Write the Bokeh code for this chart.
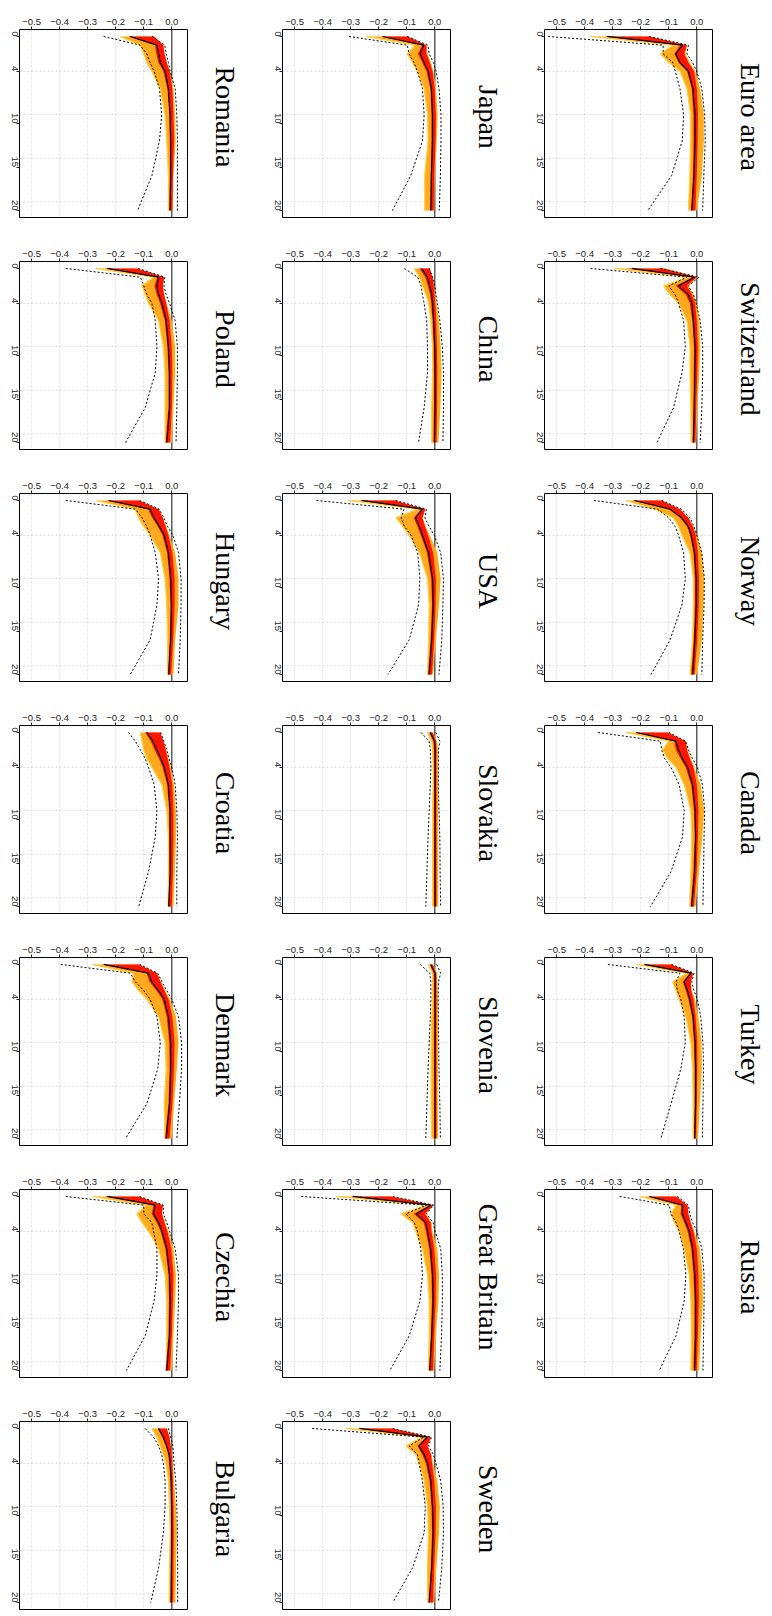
import math
from bokeh.plotting import figure
from bokeh.layouts import gridplot
from bokeh.models import Range1d, FixedTicker, Span, Title
from bokeh.embed import file_html
from bokeh.resources import INLINE

HORIZONS = [0, 1, 2, 3, 4, 6, 9, 12, 16, 20]

COUNTRIES = ["Euro area", "Switzerland", "Norway", "Canada", "Turkey", "Russia",
             "Japan", "China", "USA", "Slovakia", "Slovenia", "Great Britain", "Sweden",
             "Romania", "Poland", "Hungary", "Croatia", "Denmark", "Czechia", "Bulgaria"]

X_TICKS = [-0.5, -0.4, -0.3, -0.2, -0.1, 0.0]
X_TICK_LABELS = ["\u22120.5", "\u22120.4", "\u22120.3", "\u22120.2", "\u22120.1", "0.0"]
H_TICKS = [0, 4, 10, 15, 20]
H_GRID = [4, 9, 14, 19]

# central (black) response
MID = {
    "Euro area":     [-0.32, -0.05, -0.075, -0.06, -0.03, -0.014, -0.006, -0.006, -0.01, -0.018],
    "Switzerland":   [-0.231, -0.008, -0.065, -0.03, -0.018, -0.012, -0.006, -0.007, -0.009, -0.012],
    "Norway":        [-0.222, -0.095, -0.053, -0.03, -0.02, -0.008, -0.002, -0.002, -0.007, -0.015],
    "Canada":        [-0.216, -0.074, -0.065, -0.051, -0.033, -0.015, -0.006, -0.004, -0.008, -0.018],
    "Turkey":        [-0.187, -0.021, -0.045, -0.033, -0.025, -0.013, -0.006, -0.004, -0.004, -0.008],
    "Russia":        [-0.169, -0.051, -0.051, -0.039, -0.027, -0.015, -0.007, -0.004, -0.004, -0.008],
    "Japan":         [-0.187, -0.04, -0.052, -0.038, -0.023, -0.012, -0.008, -0.008, -0.012, -0.014],
    "China":         [-0.047, -0.026, -0.018, -0.011, -0.008, -0.004, 0.0, 0.001, 0.001, -0.001],
    "USA":           [-0.261, -0.044, -0.069, -0.055, -0.044, -0.022, -0.008, -0.006, -0.011, -0.02],
    "Slovakia":      [-0.016, -0.001, 0.001, 0.001, 0.001, 0.001, 0.001, 0.001, 0.001, 0.001],
    "Slovenia":      [-0.014, 0.001, 0.001, 0.001, 0.001, 0.001, 0.001, 0.001, 0.001, 0.001],
    "Great Britain": [-0.293, -0.014, -0.065, -0.032, -0.026, -0.015, -0.008, -0.006, -0.011, -0.018],
    "Sweden":        [-0.269, -0.026, -0.056, -0.038, -0.026, -0.014, -0.008, -0.006, -0.011, -0.02],
    "Romania":       [-0.148, -0.053, -0.047, -0.041, -0.024, -0.012, -0.006, -0.004, -0.004, -0.006],
    "Poland":        [-0.23, -0.047, -0.053, -0.047, -0.035, -0.02, -0.012, -0.008, -0.008, -0.018],
    "Hungary":       [-0.225, -0.077, -0.063, -0.044, -0.027, -0.012, -0.004, -0.001, -0.004, -0.011],
    "Croatia":       [-0.089, -0.067, -0.053, -0.039, -0.027, -0.012, -0.006, -0.006, -0.006, -0.011],
    "Denmark":       [-0.242, -0.083, -0.071, -0.047, -0.027, -0.012, -0.004, -0.004, -0.008, -0.02],
    "Czechia":       [-0.23, -0.059, -0.065, -0.047, -0.035, -0.018, -0.008, -0.006, -0.008, -0.018],
    "Bulgaria":      [-0.047, -0.03, -0.018, -0.009, -0.006, -0.002, 0.0, 0.0, -0.001, -0.002],
}

# lower dotted band
LO = {
    "Euro area":     [-0.53, -0.12, -0.12, -0.085, -0.077, -0.06, -0.047, -0.052, -0.09, -0.175],
    "Switzerland":   [-0.379, -0.035, -0.1, -0.077, -0.065, -0.047, -0.041, -0.053, -0.083, -0.142],
    "Norway":        [-0.367, -0.14, -0.1, -0.077, -0.065, -0.047, -0.041, -0.053, -0.095, -0.163],
    "Canada":        [-0.352, -0.13, -0.125, -0.115, -0.092, -0.063, -0.045, -0.051, -0.092, -0.165],
    "Turkey":        [-0.317, -0.06, -0.074, -0.069, -0.057, -0.045, -0.041, -0.057, -0.092, -0.128],
    "Russia":        [-0.275, -0.098, -0.092, -0.074, -0.063, -0.048, -0.039, -0.045, -0.074, -0.134],
    "Japan":         [-0.306, -0.098, -0.092, -0.074, -0.062, -0.044, -0.038, -0.044, -0.086, -0.151],
    "China":         [-0.108, -0.061, -0.049, -0.044, -0.038, -0.029, -0.026, -0.026, -0.038, -0.058],
    "USA":           [-0.422, -0.11, -0.12, -0.108, -0.085, -0.061, -0.053, -0.058, -0.091, -0.167],
    "Slovakia":      [-0.049, -0.02, -0.016, -0.015, -0.014, -0.016, -0.02, -0.024, -0.028, -0.032],
    "Slovenia":      [-0.052, -0.018, -0.014, -0.014, -0.014, -0.016, -0.02, -0.024, -0.028, -0.032],
    "Great Britain": [-0.476, -0.03, -0.103, -0.073, -0.062, -0.05, -0.044, -0.053, -0.091, -0.16],
    "Sweden":        [-0.437, -0.04, -0.091, -0.062, -0.056, -0.044, -0.034, -0.038, -0.079, -0.15],
    "Romania":       [-0.243, -0.113, -0.089, -0.077, -0.063, -0.044, -0.036, -0.044, -0.071, -0.122],
    "Poland":        [-0.378, -0.112, -0.1, -0.089, -0.071, -0.059, -0.053, -0.059, -0.095, -0.165],
    "Hungary":       [-0.378, -0.13, -0.106, -0.089, -0.077, -0.059, -0.047, -0.053, -0.077, -0.148],
    "Croatia":       [-0.154, -0.13, -0.112, -0.095, -0.083, -0.063, -0.053, -0.059, -0.083, -0.118],
    "Denmark":       [-0.396, -0.148, -0.13, -0.1, -0.077, -0.053, -0.041, -0.05, -0.089, -0.165],
    "Czechia":       [-0.378, -0.1, -0.1, -0.071, -0.065, -0.053, -0.053, -0.063, -0.095, -0.162],
    "Bulgaria":      [-0.095, -0.065, -0.047, -0.036, -0.03, -0.024, -0.024, -0.03, -0.047, -0.075],
}

# upper dotted band
HI = {
    "Euro area":     [-0.17, -0.03, -0.035, -0.015, 0.0, 0.018, 0.028, 0.03, 0.025, 0.021],
    "Switzerland":   [-0.13, 0.008, -0.03, -0.012, -0.002, 0.012, 0.021, 0.021, 0.018, 0.012],
    "Norway":        [-0.125, -0.055, -0.024, -0.01, 0.0, 0.018, 0.027, 0.026, 0.021, 0.018],
    "Canada":        [-0.1, -0.04, -0.03, -0.015, 0.002, 0.02, 0.028, 0.026, 0.024, 0.022],
    "Turkey":        [-0.09, -0.01, -0.018, -0.01, 0.002, 0.014, 0.022, 0.024, 0.022, 0.02],
    "Russia":        [-0.07, -0.03, -0.025, -0.015, 0.0, 0.018, 0.026, 0.026, 0.024, 0.022],
    "Japan":         [-0.098, -0.025, -0.02, -0.005, 0.005, 0.015, 0.022, 0.022, 0.02, 0.016],
    "China":         [-0.02, -0.008, 0.0, 0.004, 0.009, 0.018, 0.027, 0.031, 0.031, 0.029],
    "USA":           [-0.14, -0.03, -0.035, -0.02, -0.002, 0.021, 0.031, 0.029, 0.025, 0.015],
    "Slovakia":      [0.004, 0.018, 0.013, 0.013, 0.013, 0.013, 0.015, 0.018, 0.019, 0.021],
    "Slovenia":      [0.007, 0.021, 0.013, 0.012, 0.012, 0.013, 0.014, 0.015, 0.018, 0.02],
    "Great Britain": [-0.15, -0.004, -0.03, -0.006, 0.001, 0.021, 0.027, 0.027, 0.024, 0.018],
    "Sweden":        [-0.15, -0.012, -0.022, -0.005, 0.004, 0.021, 0.03, 0.031, 0.025, 0.013],
    "Romania":       [-0.07, -0.025, -0.02, -0.012, -0.006, 0.012, 0.018, 0.02, 0.02, 0.02],
    "Poland":        [-0.12, -0.025, -0.028, -0.02, -0.008, 0.012, 0.02, 0.02, 0.018, 0.015],
    "Hungary":       [-0.115, -0.045, -0.028, -0.015, 0.004, 0.024, 0.033, 0.033, 0.03, 0.024],
    "Croatia":       [-0.04, -0.028, -0.018, -0.01, 0.0, 0.012, 0.018, 0.02, 0.018, 0.018],
    "Denmark":       [-0.115, -0.05, -0.035, -0.018, 0.0, 0.024, 0.035, 0.035, 0.027, 0.018],
    "Czechia":       [-0.115, -0.03, -0.03, -0.018, -0.008, 0.012, 0.024, 0.024, 0.02, 0.015],
    "Bulgaria":      [-0.012, -0.004, 0.004, 0.006, 0.008, 0.014, 0.018, 0.02, 0.021, 0.021],
}

# outer envelope of the fan of estimates (yellow / orange)
FAN_L = {
    "Euro area":     [-0.38, -0.085, -0.13, -0.1, -0.06, -0.035, -0.022, -0.022, -0.025, -0.03],
    "Switzerland":   [-0.296, -0.03, -0.118, -0.095, -0.065, -0.035, -0.024, -0.024, -0.021, -0.02],
    "Norway":        [-0.254, -0.15, -0.083, -0.065, -0.053, -0.024, -0.012, -0.012, -0.015, -0.024],
    "Canada":        [-0.254, -0.1, -0.122, -0.104, -0.074, -0.045, -0.021, -0.018, -0.021, -0.025],
    "Turkey":        [-0.216, -0.035, -0.086, -0.074, -0.063, -0.039, -0.021, -0.015, -0.013, -0.013],
    "Russia":        [-0.204, -0.074, -0.092, -0.08, -0.063, -0.045, -0.027, -0.021, -0.019, -0.021],
    "Japan":         [-0.246, -0.07, -0.098, -0.08, -0.062, -0.038, -0.026, -0.024, -0.036, -0.036],
    "China":         [-0.073, -0.055, -0.044, -0.032, -0.022, -0.014, -0.008, -0.008, -0.011, -0.011],
    "USA":           [-0.31, -0.06, -0.138, -0.114, -0.091, -0.055, -0.026, -0.02, -0.022, -0.026],
    "Slovakia":      [-0.026, -0.011, -0.008, -0.007, -0.006, -0.006, -0.008, -0.008, -0.008, -0.008],
    "Slovenia":      [-0.022, -0.008, -0.008, -0.008, -0.008, -0.011, -0.013, -0.013, -0.013, -0.011],
    "Great Britain": [-0.352, -0.026, -0.121, -0.079, -0.068, -0.044, -0.026, -0.02, -0.02, -0.023],
    "Sweden":        [-0.316, -0.044, -0.103, -0.068, -0.056, -0.038, -0.026, -0.023, -0.026, -0.026],
    "Romania":       [-0.184, -0.113, -0.1, -0.089, -0.071, -0.041, -0.024, -0.018, -0.012, -0.012],
    "Poland":        [-0.272, -0.065, -0.106, -0.095, -0.083, -0.047, -0.03, -0.024, -0.024, -0.024],
    "Hungary":       [-0.272, -0.13, -0.118, -0.1, -0.077, -0.041, -0.024, -0.018, -0.015, -0.015],
    "Croatia":       [-0.112, -0.106, -0.1, -0.089, -0.071, -0.035, -0.018, -0.012, -0.012, -0.013],
    "Denmark":       [-0.284, -0.136, -0.142, -0.118, -0.089, -0.047, -0.024, -0.02, -0.027, -0.024],
    "Czechia":       [-0.284, -0.09, -0.124, -0.106, -0.083, -0.047, -0.024, -0.018, -0.018, -0.02],
    "Bulgaria":      [-0.071, -0.053, -0.041, -0.03, -0.021, -0.012, -0.008, -0.006, -0.008, -0.009],
}
FAN_R = {
    "Euro area":     [-0.17, -0.035, -0.04, -0.025, -0.005, 0.012, 0.025, 0.025, 0.018, 0.0],
    "Switzerland":   [-0.11, 0.002, -0.03, -0.012, 0.0, 0.009, 0.012, 0.009, 0.002, -0.002],
    "Norway":        [-0.125, -0.06, -0.03, -0.012, 0.0, 0.018, 0.026, 0.024, 0.018, 0.002],
    "Canada":        [-0.104, -0.039, -0.033, -0.021, -0.009, 0.014, 0.026, 0.02, 0.008, -0.004],
    "Turkey":        [-0.092, -0.013, -0.021, -0.018, -0.006, 0.006, 0.017, 0.018, 0.011, 0.004],
    "Russia":        [-0.074, -0.033, -0.03, -0.021, -0.009, 0.011, 0.02, 0.022, 0.014, 0.008],
    "Japan":         [-0.098, -0.03, -0.026, -0.014, -0.005, 0.004, 0.01, 0.007, 0.0, -0.002],
    "China":         [-0.018, -0.008, -0.002, 0.001, 0.006, 0.015, 0.021, 0.024, 0.02, 0.013],
    "USA":           [-0.144, -0.034, -0.044, -0.032, -0.018, 0.009, 0.021, 0.015, 0.004, -0.006],
    "Slovakia":      [-0.006, 0.008, 0.011, 0.011, 0.011, 0.012, 0.012, 0.012, 0.012, 0.012],
    "Slovenia":      [-0.006, 0.008, 0.009, 0.01, 0.011, 0.011, 0.011, 0.011, 0.011, 0.012],
    "Great Britain": [-0.156, -0.005, -0.032, -0.011, -0.008, 0.009, 0.015, 0.013, 0.004, -0.002],
    "Sweden":        [-0.15, -0.014, -0.026, -0.011, -0.006, 0.009, 0.018, 0.015, 0.006, -0.002],
    "Romania":       [-0.063, -0.03, -0.026, -0.018, -0.006, 0.006, 0.012, 0.014, 0.006, 0.004],
    "Poland":        [-0.124, -0.027, -0.032, -0.027, -0.018, 0.0, 0.012, 0.012, 0.006, 0.0],
    "Hungary":       [-0.118, -0.047, -0.032, -0.02, -0.008, 0.012, 0.024, 0.024, 0.012, 0.006],
    "Croatia":       [-0.041, -0.03, -0.02, -0.012, -0.004, 0.008, 0.015, 0.015, 0.011, 0.006],
    "Denmark":       [-0.118, -0.053, -0.039, -0.024, -0.006, 0.015, 0.024, 0.018, 0.008, 0.0],
    "Czechia":       [-0.118, -0.032, -0.035, -0.024, -0.012, 0.006, 0.015, 0.012, 0.006, 0.0],
    "Bulgaria":      [-0.018, -0.008, -0.004, 0.001, 0.004, 0.008, 0.015, 0.018, 0.015, 0.013],
}

# red core of the fan
RED_L = {
    "Euro area":     [-0.33, -0.06, -0.08, -0.065, -0.035, -0.018, -0.012, -0.012, -0.014, -0.02],
    "Switzerland":   [-0.25, -0.015, -0.075, -0.04, -0.025, -0.016, -0.01, -0.011, -0.012, -0.015],
    "Norway":        [-0.23, -0.1, -0.06, -0.035, -0.024, -0.012, -0.007, -0.007, -0.011, -0.02],
    "Canada":        [-0.22, -0.08, -0.075, -0.058, -0.04, -0.02, -0.01, -0.008, -0.012, -0.022],
    "Turkey":        [-0.19, -0.025, -0.05, -0.04, -0.03, -0.017, -0.01, -0.008, -0.008, -0.01],
    "Russia":        [-0.175, -0.055, -0.058, -0.045, -0.033, -0.02, -0.012, -0.009, -0.009, -0.012],
    "Japan":         [-0.19, -0.045, -0.06, -0.045, -0.03, -0.016, -0.012, -0.012, -0.015, -0.016],
    "China":         [-0.055, -0.034, -0.025, -0.017, -0.013, -0.008, -0.004, -0.003, -0.003, -0.005],
    "USA":           [-0.27, -0.048, -0.075, -0.062, -0.05, -0.028, -0.013, -0.01, -0.015, -0.024],
    "Slovakia":      [-0.02, -0.005, -0.003, -0.003, -0.003, -0.003, -0.003, -0.003, -0.003, -0.003],
    "Slovenia":      [-0.018, -0.004, -0.003, -0.003, -0.003, -0.003, -0.003, -0.003, -0.003, -0.003],
    "Great Britain": [-0.3, -0.018, -0.075, -0.04, -0.032, -0.02, -0.012, -0.01, -0.014, -0.02],
    "Sweden":        [-0.275, -0.03, -0.062, -0.045, -0.032, -0.019, -0.012, -0.01, -0.014, -0.022],
    "Romania":       [-0.155, -0.06, -0.055, -0.048, -0.03, -0.016, -0.009, -0.007, -0.007, -0.009],
    "Poland":        [-0.24, -0.052, -0.062, -0.054, -0.042, -0.025, -0.016, -0.012, -0.012, -0.022],
    "Hungary":       [-0.235, -0.085, -0.07, -0.05, -0.033, -0.017, -0.008, -0.005, -0.007, -0.014],
    "Croatia":       [-0.095, -0.075, -0.062, -0.046, -0.033, -0.017, -0.009, -0.008, -0.008, -0.012],
    "Denmark":       [-0.25, -0.09, -0.08, -0.055, -0.034, -0.018, -0.009, -0.008, -0.012, -0.024],
    "Czechia":       [-0.24, -0.065, -0.072, -0.054, -0.04, -0.023, -0.012, -0.01, -0.012, -0.022],
    "Bulgaria":      [-0.05, -0.034, -0.022, -0.013, -0.009, -0.005, -0.003, -0.003, -0.004, -0.005],
}
RED_R = {
    "Euro area":     [-0.17, -0.035, -0.045, -0.03, -0.01, 0.0, 0.004, 0.003, 0.0, -0.005],
    "Switzerland":   [-0.12, 0.0, -0.035, -0.018, -0.006, 0.0, 0.004, 0.002, -0.002, -0.005],
    "Norway":        [-0.125, -0.06, -0.03, -0.014, -0.004, 0.004, 0.008, 0.007, 0.002, -0.008],
    "Canada":        [-0.104, -0.039, -0.035, -0.025, -0.012, 0.0, 0.006, 0.004, 0.0, -0.01],
    "Turkey":        [-0.092, -0.013, -0.021, -0.02, -0.012, -0.004, 0.002, 0.002, 0.0, -0.002],
    "Russia":        [-0.074, -0.033, -0.03, -0.022, -0.012, 0.0, 0.006, 0.007, 0.004, 0.0],
    "Japan":         [-0.098, -0.03, -0.03, -0.018, -0.008, 0.0, 0.004, 0.003, -0.002, -0.004],
    "China":         [-0.018, -0.008, -0.004, -0.001, 0.002, 0.005, 0.008, 0.009, 0.008, 0.006],
    "USA":           [-0.144, -0.034, -0.044, -0.035, -0.024, -0.006, 0.004, 0.003, -0.002, -0.01],
    "Slovakia":      [-0.008, 0.005, 0.006, 0.006, 0.006, 0.006, 0.006, 0.006, 0.006, 0.006],
    "Slovenia":      [-0.008, 0.005, 0.006, 0.006, 0.006, 0.006, 0.006, 0.006, 0.006, 0.006],
    "Great Britain": [-0.156, -0.005, -0.035, -0.015, -0.012, -0.002, 0.004, 0.003, -0.002, -0.006],
    "Sweden":        [-0.15, -0.014, -0.026, -0.014, -0.01, -0.002, 0.004, 0.003, -0.002, -0.006],
    "Romania":       [-0.063, -0.03, -0.026, -0.018, -0.008, 0.002, 0.006, 0.008, 0.004, 0.002],
    "Poland":        [-0.124, -0.027, -0.032, -0.028, -0.02, -0.008, 0.0, 0.002, 0.0, -0.006],
    "Hungary":       [-0.118, -0.047, -0.032, -0.022, -0.012, 0.002, 0.01, 0.01, 0.005, -0.002],
    "Croatia":       [-0.041, -0.03, -0.022, -0.015, -0.008, 0.002, 0.006, 0.006, 0.004, 0.0],
    "Denmark":       [-0.118, -0.053, -0.04, -0.026, -0.012, 0.002, 0.01, 0.008, 0.002, -0.008],
    "Czechia":       [-0.118, -0.032, -0.035, -0.026, -0.016, -0.002, 0.006, 0.004, 0.0, -0.006],
    "Bulgaria":      [-0.018, -0.008, -0.004, 0.0, 0.002, 0.004, 0.006, 0.007, 0.006, 0.005],
}

COLUMNS = [COUNTRIES[13:20], COUNTRIES[6:13], COUNTRIES[0:6]]

AXIS_FONT = "Liberation Sans"
TITLE_FONT = "Liberation Serif"
TITLE_SIZE = 28

# advance widths of the serif title font (per 1000 em), used only to centre titles
_GLYPH_W = {" ": 250, "a": 444, "b": 500, "c": 444, "d": 500, "e": 444, "g": 500,
            "h": 500, "i": 278, "k": 500, "l": 278, "m": 778, "n": 500, "o": 500,
            "p": 500, "r": 333, "s": 389, "t": 278, "u": 500, "v": 500, "w": 722,
            "y": 500, "z": 444, "A": 722, "B": 667, "C": 667, "D": 722, "E": 611,
            "G": 722, "H": 722, "J": 389, "N": 722, "P": 556, "R": 667, "S": 556,
            "T": 611, "U": 722}


def title_offset(text):
    w = sum(_GLYPH_W.get(ch, 500) for ch in text) * TITLE_SIZE / 1000.0
    return 87.5 - w / 2.0


def make_panel(name, col, last_row):
    p = figure(frame_width=168, frame_height=188,
               x_range=Range1d(-0.543, 0.056), y_range=Range1d(20.8, -0.8),
               x_axis_location="above", output_backend="svg", toolbar_location=None,
               min_border_left=19, min_border_right=(76 if col == 0 else 75 if col == 1 else 52),
               min_border_top=29, min_border_bottom=(3 if last_row else 15),
               background_fill_color="white", border_fill_color="white")
    p.outline_line_color = "black"
    p.outline_line_width = 1

    xa = p.xaxis[0]
    xa.ticker = FixedTicker(ticks=X_TICKS)
    xa.major_label_overrides = {t: l for t, l in zip(X_TICKS, X_TICK_LABELS)}
    ya = p.yaxis[0]
    ya.ticker = FixedTicker(ticks=H_TICKS)
    ya.major_label_orientation = -math.pi / 2
    for ax in (xa, ya):
        ax.axis_line_color = None
        ax.major_tick_in = 0
        ax.major_tick_out = 3
        ax.major_tick_line_color = "#222222"
        ax.minor_tick_line_color = None
        ax.major_label_standoff = 2
        ax.major_label_text_font = AXIS_FONT
        ax.major_label_text_font_size = "9.5px"
        ax.major_label_text_color = "#222222"

    p.xgrid.ticker = FixedTicker(ticks=X_TICKS[:-1])
    p.ygrid.ticker = FixedTicker(ticks=H_GRID)
    for g in (p.xgrid, p.ygrid):
        g.grid_line_color = "#d6d6d6"
        g.grid_line_dash = "2 2"
        g.grid_line_width = 0.8

    p.add_layout(Span(location=0, dimension="height", line_color="#444444",
                      line_width=1.3, level="underlay"))

    p.harea(x1=FAN_L[name], x2=FAN_R[name], y=HORIZONS, fill_color="#ffa91f")
    p.line(FAN_L[name], HORIZONS, line_color="#ffcf3a", line_width=1.2)
    p.harea(x1=RED_L[name], x2=RED_R[name], y=HORIZONS, fill_color="#ff1500")
    p.line(LO[name], HORIZONS, line_color="black", line_width=1, line_dash="2 2")
    p.line(HI[name], HORIZONS, line_color="black", line_width=1, line_dash="2 2")
    p.line(MID[name], HORIZONS, line_color="black", line_width=1.2)

    # blank spacer between frame and panel title
    p.add_layout(Title(text=" ", text_font_size="1px", standoff=17), "right")
    p.add_layout(Title(text=name, align="left", vertical_align="top",
                       offset=title_offset(name),
                       text_font=TITLE_FONT, text_font_size=f"{TITLE_SIZE}px",
                       text_font_style="normal", text_color="black", standoff=0), "right")
    return p


rows = []
for r in range(7):
    row = []
    for c, names in enumerate(COLUMNS):
        if r < len(names):
            row.append(make_panel(names[r], c, r == 6))
        else:
            row.append(None)
    rows.append(row)

grid = gridplot(rows, toolbar_location=None)

open("out.html", "w").write(file_html(grid, INLINE))
